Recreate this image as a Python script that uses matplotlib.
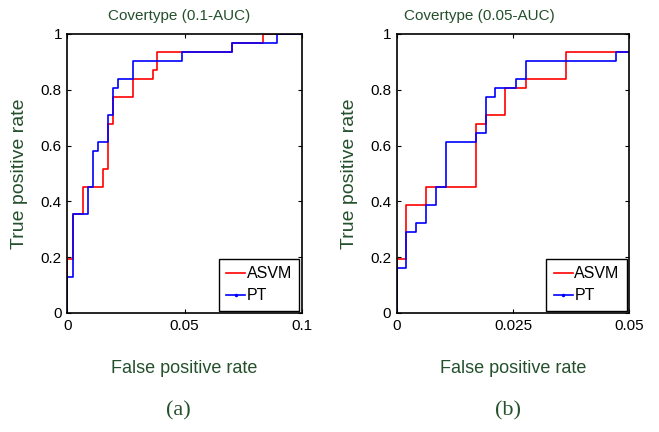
import matplotlib
matplotlib.use("Agg")
import matplotlib.pyplot as plt

# (a) Covertype 0.1-AUC : step ROC curves
fpr_a_asvm = [0, 0, 0.0025, 0.0065, 0.0150, 0.0174, 0.0196, 0.0278, 0.0364, 0.0383, 0.0704, 0.0833, 0.1]
tpr_a_asvm = [0, 0.194, 0.355, 0.452, 0.516, 0.677, 0.774, 0.839, 0.871, 0.935, 0.968, 1.0, 1.0]
fpr_a_pt = [0, 0, 0.0025, 0.0088, 0.0107, 0.0132, 0.0174, 0.0196, 0.0214, 0.0278, 0.0491, 0.0704, 0.0895, 0.1]
tpr_a_pt = [0, 0.129, 0.355, 0.452, 0.581, 0.613, 0.710, 0.806, 0.839, 0.903, 0.935, 0.968, 1.0, 1.0]

# (b) Covertype 0.05-AUC
fpr_b_asvm = [0, 0, 0.0019, 0.0062, 0.0171, 0.0191, 0.0233, 0.0278, 0.0363, 0.05]
tpr_b_asvm = [0, 0.194, 0.387, 0.452, 0.677, 0.710, 0.806, 0.839, 0.935, 0.935]
fpr_b_pt = [0, 0, 0.0019, 0.0041, 0.0062, 0.0084, 0.0105, 0.0171, 0.0191, 0.0212, 0.0256, 0.0278, 0.0471, 0.05]
tpr_b_pt = [0, 0.161, 0.290, 0.323, 0.387, 0.452, 0.613, 0.645, 0.774, 0.806, 0.839, 0.903, 0.935, 0.935]

titles = ["Covertype (0.1-AUC)", "Covertype (0.05-AUC)"]
xticks = [[0, 0.05, 0.1], [0, 0.025, 0.05]]
xticklabels = [["0", "0.05", "0.1"], ["0", "0.025", "0.05"]]
yticks = [0, 0.2, 0.4, 0.6, 0.8, 1]
yticklabels = ["0", "0.2", "0.4", "0.6", "0.8", "1"]
panels = ["(a)", "(b)"]

green = "#24502c"
plt.rcParams["font.family"] = ["Liberation Sans", "DejaVu Sans"]

fig = plt.figure(figsize=(6.59, 4.32), dpi=100)
ax1 = fig.add_axes([0.1024, 0.2755, 0.3554, 0.6458])
ax2 = fig.add_axes([0.602, 0.2755, 0.353, 0.6458])

data = [(fpr_a_asvm, tpr_a_asvm, fpr_a_pt, tpr_a_pt),
        (fpr_b_asvm, tpr_b_asvm, fpr_b_pt, tpr_b_pt)]
title_x = [0.2716, 0.728]
panel_x = [0.270, 0.771]

for i, ax in enumerate([ax1, ax2]):
    xa, ya, xp, yp = data[i]
    ax.step(xa, ya, where="post", color="red", lw=1.2, label="ASVM")
    ax.step(xp, yp, where="post", color="blue", lw=1.2, label="PT")
    ax.set_xlim(0, xticks[i][-1])
    ax.set_ylim(0, 1)
    ax.set_xticks(xticks[i])
    ax.set_xticklabels(xticklabels[i])
    ax.set_yticks(yticks)
    ax.set_yticklabels(yticklabels)
    ax.tick_params(direction="in", top=True, right=True, length=3, width=0.8,
                   labelsize=11, pad=4)
    for s in ax.spines.values():
        s.set_linewidth(1.2)
    fig.text(title_x[i], 0.963, titles[i], color=green, fontsize=11,
             ha="center", va="center")
    ax.set_xlabel("False positive rate", color=green, fontsize=13, labelpad=20)
    ax.set_ylabel("True positive rate", color=green, fontsize=14, labelpad=9)
    # legend: blue line carries a small dot in the middle
    h1, = ax.plot([], [], color="red", lw=1.2)
    h2, = ax.plot([], [], color="blue", lw=1.2, marker=".", markersize=3,
                  markevery=[1])
    leg = ax.legend([h1, h2], ["ASVM", "PT"], loc="lower right", fontsize=11.5,
                    fancybox=False, framealpha=1, edgecolor="black",
                    handlelength=1.2, handletextpad=0.1, borderpad=0.45,
                    labelspacing=0.45, borderaxespad=0.15)
    leg.get_frame().set_linewidth(1.0)
    fig.text(panel_x[i], 0.05, panels[i], color=green, fontsize=16,
             family="Liberation Serif", ha="center", va="center")

fig.savefig("out.png", dpi=100)
